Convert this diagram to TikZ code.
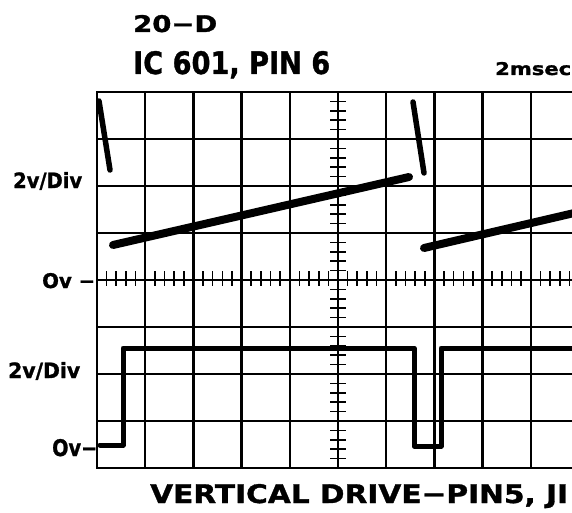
\documentclass[tikz,border=0pt]{standalone}
\usepackage{fontspec}
\setmainfont{DejaVu Sans}[BoldFeatures={FakeBold=1.2}]
\usepackage{graphicx}
\tikzset{
  gridline/.style={line width=2.4pt, line cap=rect},
  tickmark/.style={line width=1.6pt},
  ramp/.style={line width=8pt, line cap=round},
  retrace/.style={line width=5.5pt, line cap=round},
  squarewave/.style={line width=5pt, line join=round, line cap=round},
  lbl/.style={inner sep=0pt, anchor=base west, font=\bfseries}
}
\begin{document}
\begin{tikzpicture}[x=1pt, y=-1pt]
\useasboundingbox (0,0) rectangle (572,513);
\fill[white] (0,0) rectangle (572,513);
% labels
\node[lbl] (title) at (133,32) {\resizebox{84pt}{17pt}{20−D}};
\node[lbl] (ic) at (133,74) {\resizebox{197pt}{23pt}{IC 601, PIN 6}};
\node[lbl] (time) at (495,75) {\resizebox{76pt}{13pt}{2msec}};
\node[lbl] (v1) at (13,188) {\resizebox{69pt}{16pt}{2v/Div}};
\node[lbl] (z1) at (42,288) {\resizebox{53pt}{15pt}{Ov −}};
\node[lbl] (v2) at (8,378) {\resizebox{72pt}{16pt}{2v/Div}};
\node[lbl] (z2) at (52,456) {\resizebox{45pt}{17pt}{Ov−}};
\node[lbl] (cap) at (150,503) {\resizebox{418pt}{19pt}{VERTICAL DRIVE−PIN5, JI}};
\begin{scope}
\clip (0,0) rectangle (572,513);
% grid
\foreach \k in {0,...,10} \draw[gridline] ({97+48.2*\k},92) -- ({97+48.2*\k},468);
\foreach \j in {0,...,8} \draw[gridline] (97,{92+47*\j}) -- (585,{92+47*\j});
% ticks on the centre line
\foreach \i in {1,...,39}{
  \pgfmathtruncatemacro\r{mod(\i,5)}
  \ifnum\r>0 \draw[tickmark] (330,{92+9.4*\i}) -- (346,{92+9.4*\i}); \fi
}
% ticks on the 0v line
\foreach \i in {1,...,49}{
  \pgfmathtruncatemacro\r{mod(\i,5)}
  \ifnum\r>0 \draw[tickmark] ({97+9.64*\i},271) -- ({97+9.64*\i},286); \fi
}
% upper trace (sawtooth)
\draw[retrace] (99,101) -- (110,170);
\draw[ramp] (113,245) -- (409,177);
\draw[retrace] (413,102) -- (424,173);
\draw[ramp] (424,248) -- (600,207);
% lower trace (pulse)
\draw[squarewave] (100,445) -- (123,445) -- (123,348) -- (414,348) -- (414,446) -- (441,446) -- (441,348) -- (590,348);
\end{scope}
\end{tikzpicture}
\end{document}
